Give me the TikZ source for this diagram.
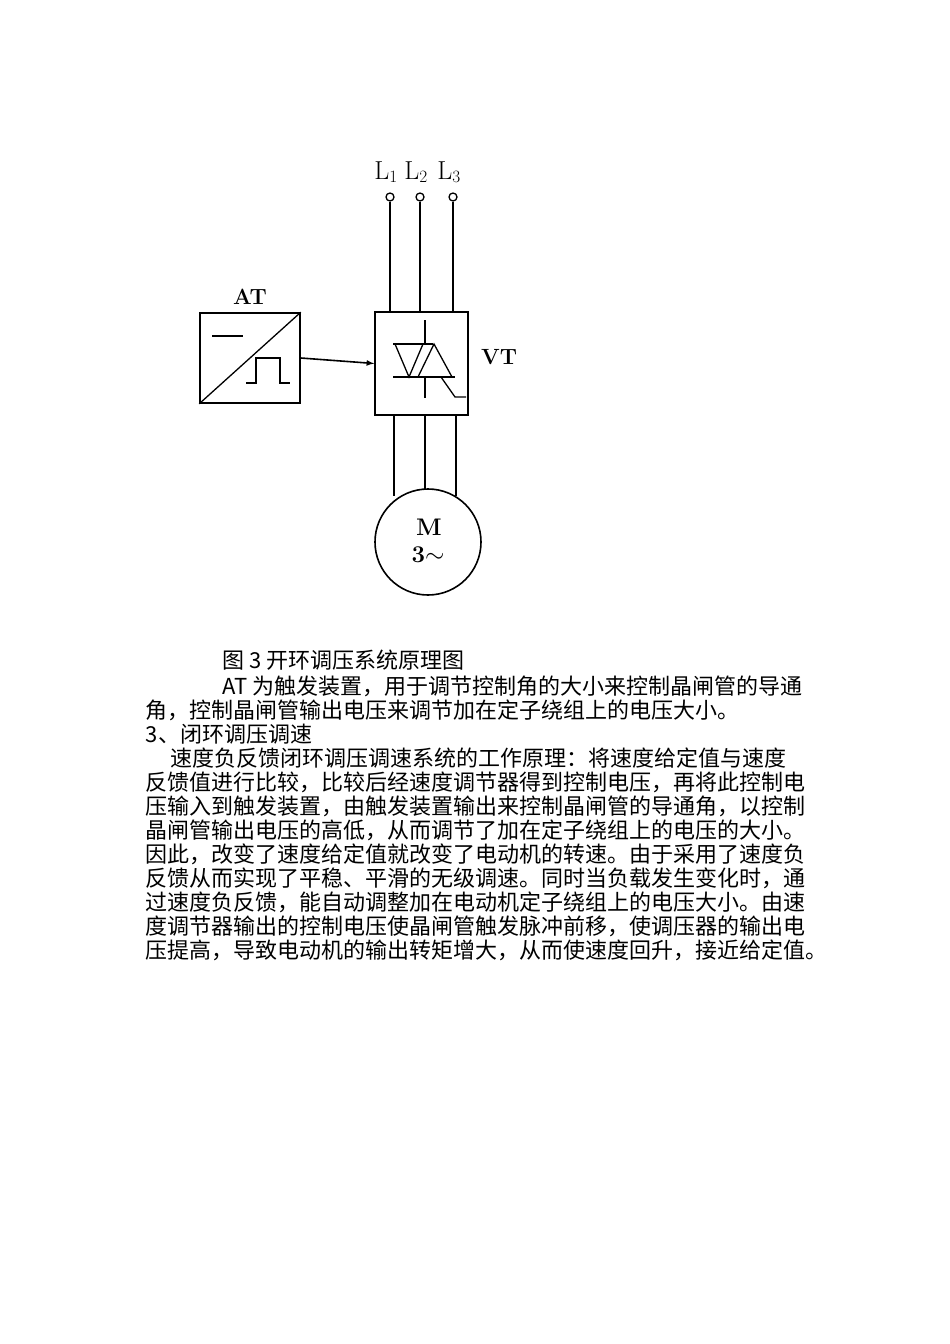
\documentclass[tikz,border=0pt]{standalone}
\usepackage{fontspec}
\newfontfamily\cjk{Noto Sans CJK SC}
\begin{document}
\begin{tikzpicture}[x=1pt,y=-1pt,line width=1.6pt,
  txt/.style={anchor=west,inner sep=0pt,font=\cjk\fontsize{22}{23}\selectfont},
  lbl/.style={inner sep=0pt,font=\bfseries\fontsize{22}{22}\selectfont},
  term/.style={circle,draw,line width=1.3pt,minimum size=8pt,inner sep=0pt}]
\useasboundingbox[fill=white] (0,0) rectangle (950,1344);
% terminals
\foreach \n/\x/\s in {a/390/1,b/420/2,c/453/3}{
  \node[term] (t\n) at (\x,197) {};
  \node[inner sep=0pt,font=\fontsize{26}{26}\selectfont] at (\x-4,172) {L$_{\s}$};
}
% boxes
\node[draw,minimum width=100pt,minimum height=90pt,inner sep=0pt] (at) at (250,358) {};
\node[lbl] at (250,297) {AT};
\node[draw,minimum width=93pt,minimum height=103pt,inner sep=0pt] (vt) at (421.5,363.5) {};
\node[lbl] at (499,357) {VT};
\node[circle,draw,minimum size=106pt,inner sep=0pt] (m) at (428,542) {};
\node[lbl,font=\bfseries\fontsize{24}{24}\selectfont] (mm) at (429,527) {M};
\node[lbl,font=\bfseries\fontsize{24}{24}\selectfont] (mp) at (428,555) {3$\sim$};
% lines
\draw (ta) -- (390,312);
\draw (tb) -- (420,312);
\draw (tc) -- (453,312);
\draw (394,415) -- (394,496);
\draw (425,415) -- (425,489);
\draw (456,415) -- (456,496);
\draw[-latex] (at.east) -- (vt.west);
% AT internals
\draw[line width=1.3pt] (at.south west) -- (at.north east);
\draw (212,336) -- (243,336);
\draw[line width=1.3pt] (246,383) -- (256,383) -- (256,358) -- (280,358) -- (280,383) -- (290,383);
% thyristor
\draw[line width=1.3pt] (393,344) -- (433,344);
\draw[line width=1.3pt] (393,377) -- (455,377);
\draw[line width=1.3pt] (395,344) -- (409,377) -- (423,344);
\draw[line width=1.3pt] (418,377) -- (434,344) -- (452,377);
\draw[line width=1.3pt] (425,320) -- (425,344);
\draw[line width=1.3pt] (425,377) -- (425,398);
\draw[line width=1.3pt] (441,377) -- (455,397) -- (466,397);
% text
\node[txt] at (222,660) {图 3 开环调压系统原理图};
\node[txt] at (222,686) {AT 为触发装置，用于调节控制角的大小来控制晶闸管的导通};
\node[txt] at (145,710) {角，控制晶闸管输出电压来调节加在定子绕组上的电压大小。};
\node[txt] at (145,734) {3、闭环调压调速};
\node[txt] at (170,758) {速度负反馈闭环调压调速系统的工作原理：将速度给定值与速度};
\node[txt] at (145,782) {反馈值进行比较，比较后经速度调节器得到控制电压，再将此控制电};
\node[txt] at (145,806) {压输入到触发装置，由触发装置输出来控制晶闸管的导通角，以控制};
\node[txt] at (145,830) {晶闸管输出电压的高低，从而调节了加在定子绕组上的电压的大小。};
\node[txt] at (145,854) {因此，改变了速度给定值就改变了电动机的转速。由于采用了速度负};
\node[txt] at (145,878) {反馈从而实现了平稳、平滑的无级调速。同时当负载发生变化时，通};
\node[txt] at (145,902) {过速度负反馈，能自动调整加在电动机定子绕组上的电压大小。由速};
\node[txt] at (145,926) {度调节器输出的控制电压使晶闸管触发脉冲前移，使调压器的输出电};
\node[txt] at (145,950) {压提高，导致电动机的输出转矩增大，从而使速度回升，接近给定值。};
\end{tikzpicture}
\end{document}
